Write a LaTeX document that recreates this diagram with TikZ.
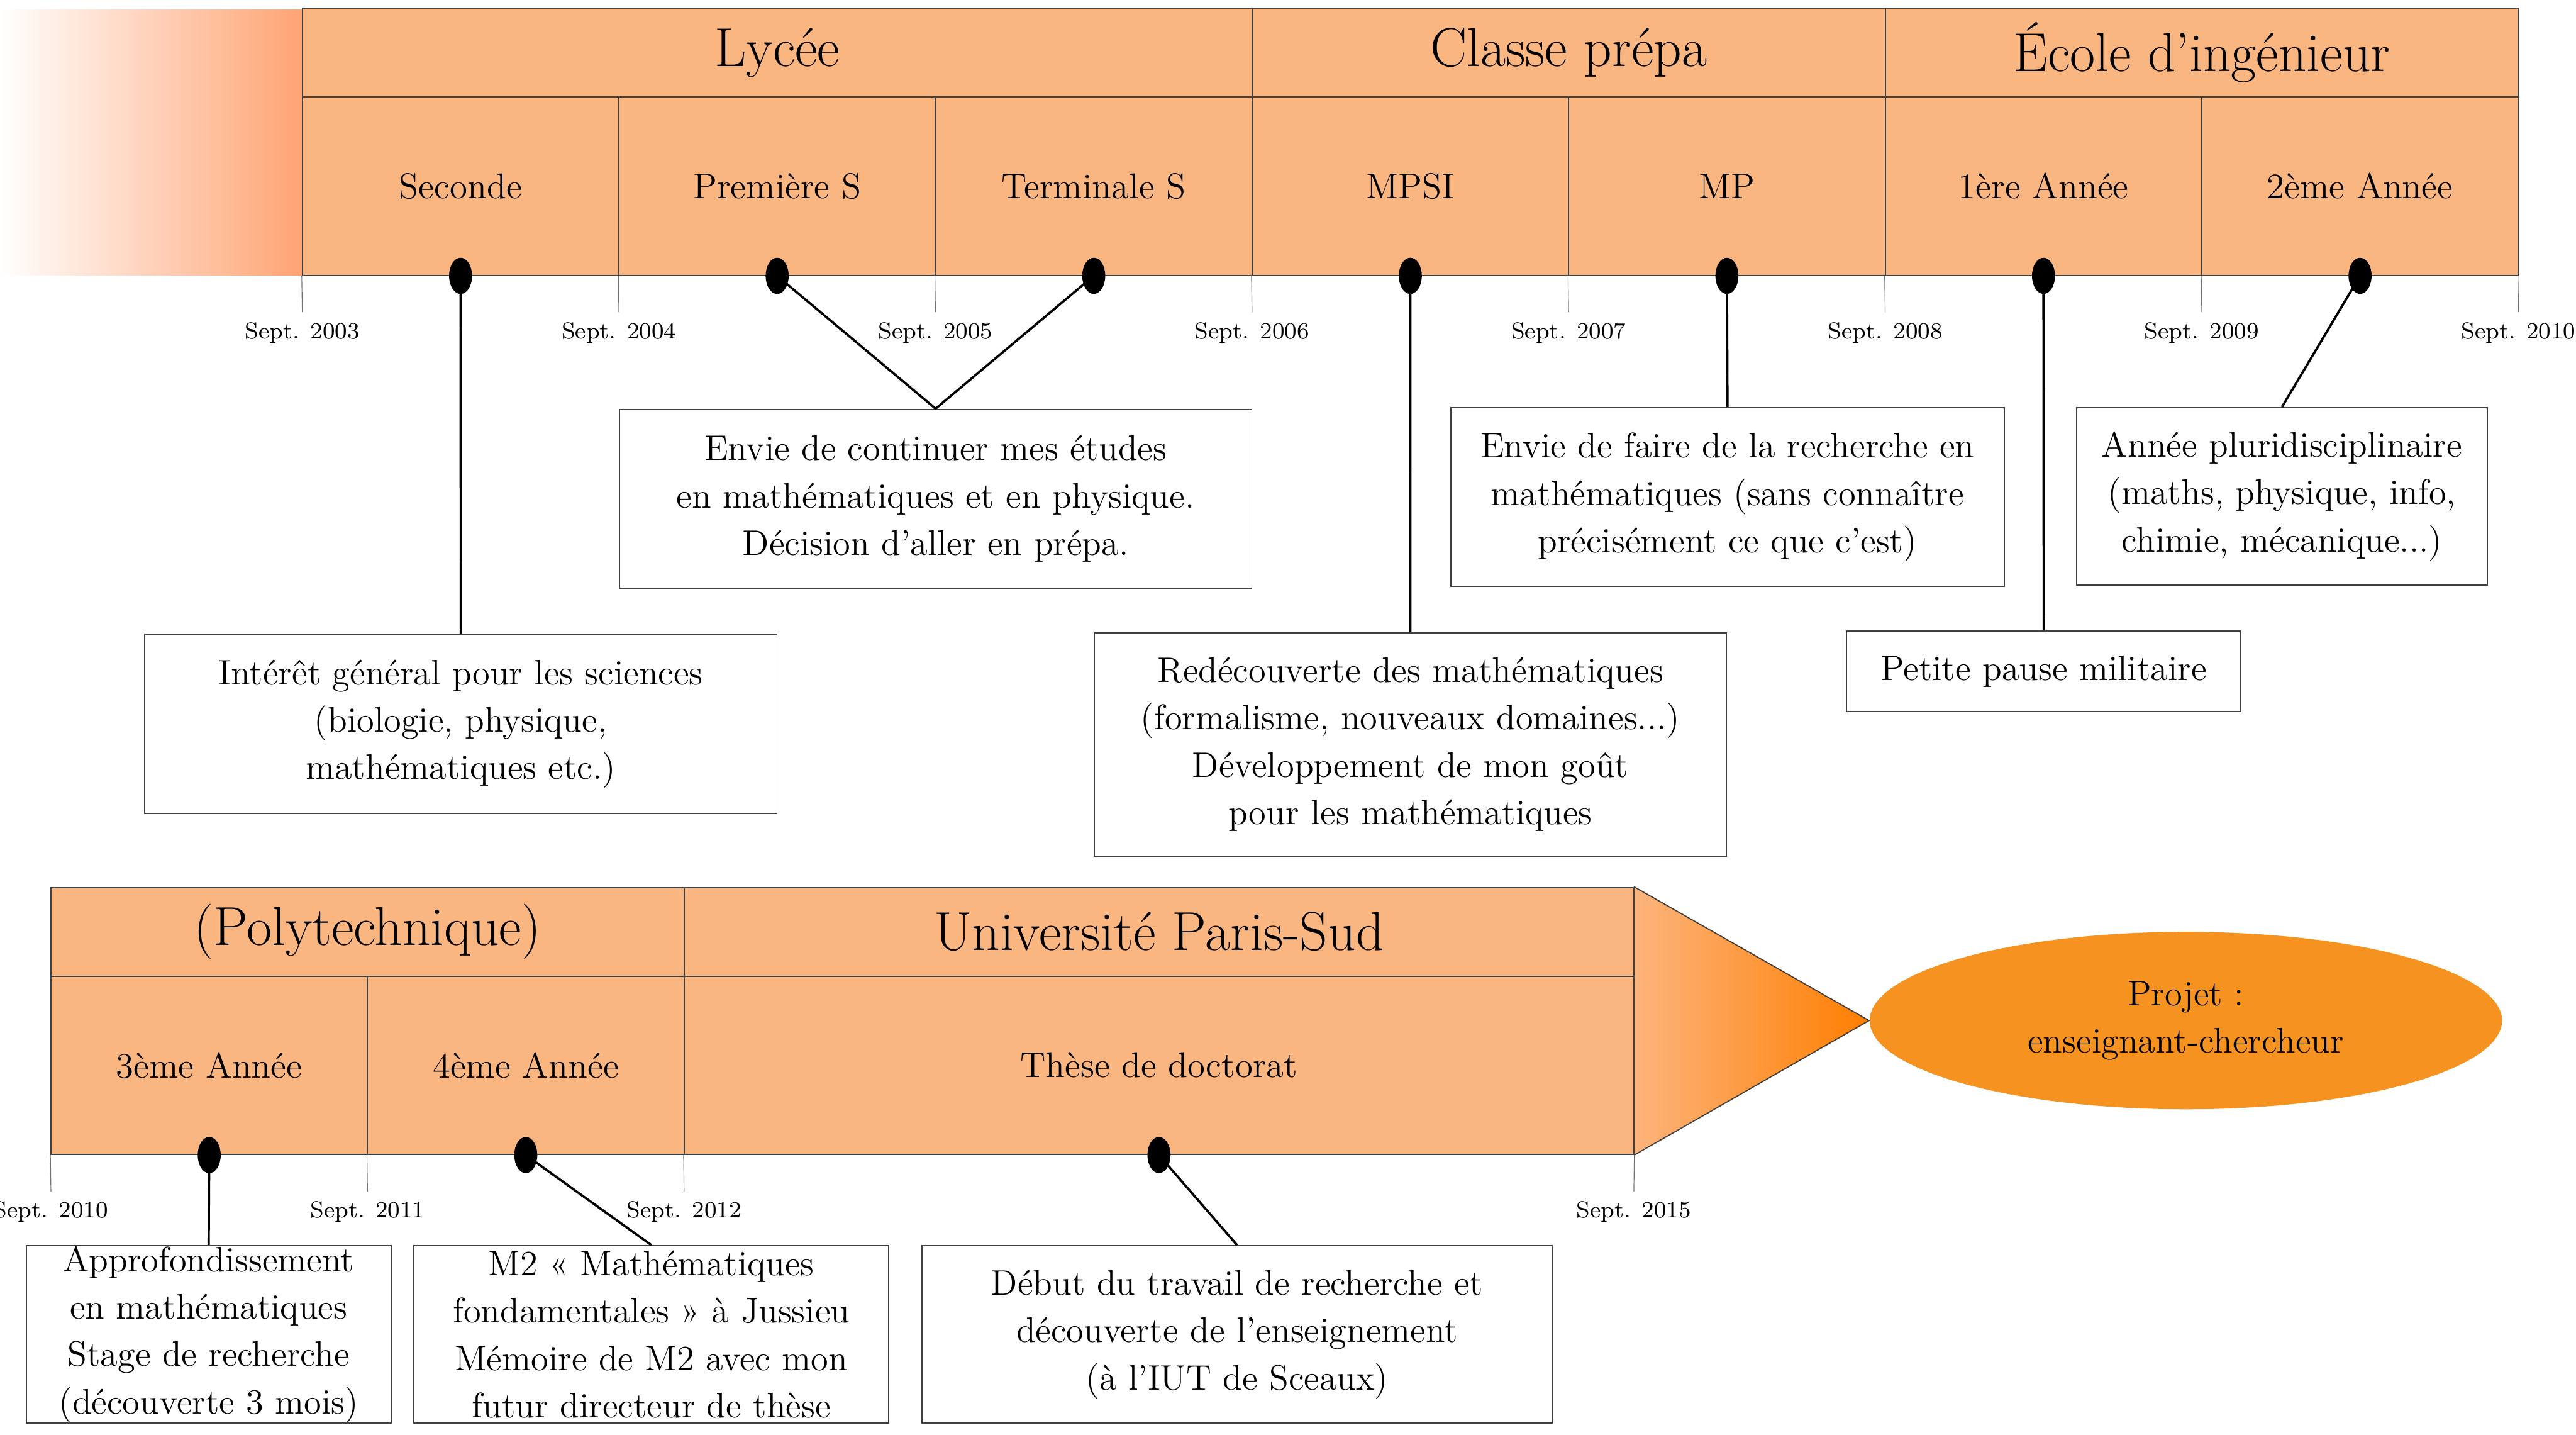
\documentclass[tikz,border=0pt]{standalone}
\usepackage{tikz}
\usetikzlibrary{shapes.geometric}
\definecolor{cellorange}{RGB}{249,182,128}
\definecolor{fadeorange}{RGB}{255,164,116}
\definecolor{arrowlight}{RGB}{252,180,124}
\definecolor{arrowdark}{RGB}{255,126,0}
\definecolor{goalorange}{RGB}{245,146,32}
\newcommand{\notefont}{\fontsize{12.3}{16.4}\selectfont}
\newcommand{\periodfont}{\fontsize{19}{23}\selectfont}
\tikzset{
	period/.style={
		draw=black!75,
		fill=cellorange,
		minimum height=1.08cm,
		font=\periodfont
	},
	cell/.style={
		draw=black!75,
		fill=cellorange,
		minimum width=3.854cm,
		minimum height=2.17cm,
		font=\fontsize{12.4}{15}\selectfont
	},
	note/.style={
		draw=black!75,
		fill=white,
		align=center,
		font=\notefont
	},
	dot/.style={
		ellipse,
		fill=black,
		inner sep=0pt,
		minimum width=0.28cm,
		minimum height=0.44cm
	},
	tick/.style={draw=black!55, line width=0.25pt},
	date/.style={font=\footnotesize, anchor=north},
	link/.style={line width=0.8pt},
	goal/.style={
		ellipse,
		fill=goalorange,
		align=center,
		font=\notefont,
		minimum width=7.7cm,
		minimum height=2.16cm
	},
}

\begin{document}
\begin{tikzpicture}[x=0.02cm, y=-0.02cm]
	\useasboundingbox (0,0) rectangle (1568,873);

	\shade[left color=white, right color=fadeorange] (0,6) rectangle (184,167.5);

	\node[period, minimum width=11.562cm] (lycee) at (473.1,32) {Lycée};
	\node[period, minimum width=7.708cm]  (prepa) at (954.8,32) {Classe prépa};
	\node[period, minimum width=7.708cm]  (ecole) at (1340.2,32) {École d’ingénieur};

	\node[cell] (seconde)   at (280.35,113.25)  {Seconde};
	\node[cell] (premiere)  at (473.05,113.25)  {Première S};
	\node[cell] (terminale) at (665.75,113.25)  {Terminale S};
	\node[cell] (mpsi)      at (858.45,113.25)  {MPSI};
	\node[cell] (mp)        at (1051.15,113.25) {MP};
	\node[cell] (annee1)    at (1243.85,113.25) {1ère Année};
	\node[cell] (annee2)    at (1436.55,113.25) {2ème Année};

	\node[period, minimum width=7.708cm]  (poly) at (223.7,567) {(Polytechnique)};
	\node[period, minimum width=11.562cm] (univ) at (705.45,567) {Université Paris-Sud};

	\node[cell] (annee3) at (127.35,648.25) {3ème Année};
	\node[cell] (annee4) at (320.05,648.25) {4ème Année};
	\node[cell, minimum width=11.562cm] (these) at (705.45,648.25) {Thèse de doctorat};

	\node[goal] (projet) at (1330.5,621) {Projet :\\enseignant-chercheur};
	\shadedraw[draw=black!75, left color=arrowlight, right color=arrowdark]
		(univ.north east) -- (projet.west) -- (these.south east) -- cycle;

	% notes
	\node[note, minimum width=7.7cm, minimum height=2.18cm] (interet) at (280.5,440.5)
		{Intérêt général pour les sciences\\(biologie, physique,\\mathématiques etc.)};
	\node[note, minimum width=7.7cm, minimum height=2.18cm] (envie) at (569.5,303.5)
		{Envie de continuer mes études\\en mathématiques et en physique.\\Décision d’aller en prépa.};
	\node[note, minimum width=7.7cm, minimum height=2.72cm] (redec) at (858.5,453)
		{Redécouverte des mathématiques\\(formalisme, nouveaux domaines...)\\Développement de mon goût\\pour les mathématiques};
	\node[note, minimum width=6.74cm, minimum height=2.18cm] (recherche) at (1051.5,302.5)
		{Envie de faire de la recherche en\\mathématiques (sans connaître\\précisément ce que c’est)};
	\node[note, minimum width=4.8cm, minimum height=0.98cm] (pause) at (1244,408.5)
		{Petite pause militaire};
	\node[note, minimum width=5cm, minimum height=2.16cm] (pluri) at (1389,302)
		{Année pluridisciplinaire\\(maths, physique, info,\\chimie, mécanique...)};
	\node[note, minimum width=4.44cm, minimum height=2.16cm, inner ysep=0pt] (approf) at (127,812)
		{Approfondissement\\en mathématiques\\Stage de recherche\\(découverte 3 mois)};
	\node[note, minimum width=5.78cm, minimum height=2.16cm, inner ysep=0pt] (memoire) at (396.5,812)
		{M2 « Mathématiques\\fondamentales » à Jussieu\\Mémoire de M2 avec mon\\futur directeur de thèse};
	\node[note, minimum width=7.68cm, minimum height=2.16cm] (debut) at (753,812)
		{Début du travail de recherche et\\découverte de l’enseignement\\(à l’IUT de Sceaux)};

	\draw[link] (seconde.south) -- (interet.north);
	\draw[link] (premiere.south) -- (envie.north) -- (terminale.south);
	\draw[link] (mpsi.south) -- (redec.north);
	\draw[link] (mp.south) -- (recherche.north);
	\draw[link] (annee1.south) -- (pause.north);
	\draw[link] (annee2.south) -- (pluri.north);
	\draw[link] (annee3.south) -- (approf.north);
	\draw[link] (annee4.south) -- (memoire.north);
	\draw[link] (these.south) -- (debut.north);

	\node[dot] (dseconde)   at (seconde.south) {};
	\node[dot] (dpremiere)  at (premiere.south) {};
	\node[dot] (dterminale) at (terminale.south) {};
	\node[dot] (dmpsi)      at (mpsi.south) {};
	\node[dot] (dmp)        at (mp.south) {};
	\node[dot] (dannee1)    at (annee1.south) {};
	\node[dot] (dannee2)    at (annee2.south) {};
	\node[dot] (dannee3)    at (annee3.south) {};
	\node[dot] (dannee4)    at (annee4.south) {};
	\node[dot] (dthese)     at (these.south) {};

	% dates
	\node[date] (s2003) at (184,190)    {Sept. 2003};
	\node[date] (s2004) at (376.7,190)  {Sept. 2004};
	\node[date] (s2005) at (569.4,190)  {Sept. 2005};
	\node[date] (s2006) at (762.1,190)  {Sept. 2006};
	\node[date] (s2007) at (954.8,190)  {Sept. 2007};
	\node[date] (s2008) at (1147.5,190) {Sept. 2008};
	\node[date] (s2009) at (1340.2,190) {Sept. 2009};
	\node[date] (s2010) at (1532.9,190) {Sept. 2010};
	\draw[tick] (seconde.south west) -- (s2003.north);
	\draw[tick] (premiere.south west) -- (s2004.north);
	\draw[tick] (terminale.south west) -- (s2005.north);
	\draw[tick] (mpsi.south west) -- (s2006.north);
	\draw[tick] (mp.south west) -- (s2007.north);
	\draw[tick] (annee1.south west) -- (s2008.north);
	\draw[tick] (annee2.south west) -- (s2009.north);
	\draw[tick] (annee2.south east) -- (s2010.north);

	\node[date] (b2010) at (31,725)    {Sept. 2010};
	\node[date] (b2011) at (223.7,725) {Sept. 2011};
	\node[date] (b2012) at (416.4,725) {Sept. 2012};
	\node[date] (b2015) at (994.5,725) {Sept. 2015};
	\draw[tick] (annee3.south west) -- (b2010.north);
	\draw[tick] (annee4.south west) -- (b2011.north);
	\draw[tick] (these.south west) -- (b2012.north);
	\draw[tick] (these.south east) -- (b2015.north);
\end{tikzpicture}
\end{document}
